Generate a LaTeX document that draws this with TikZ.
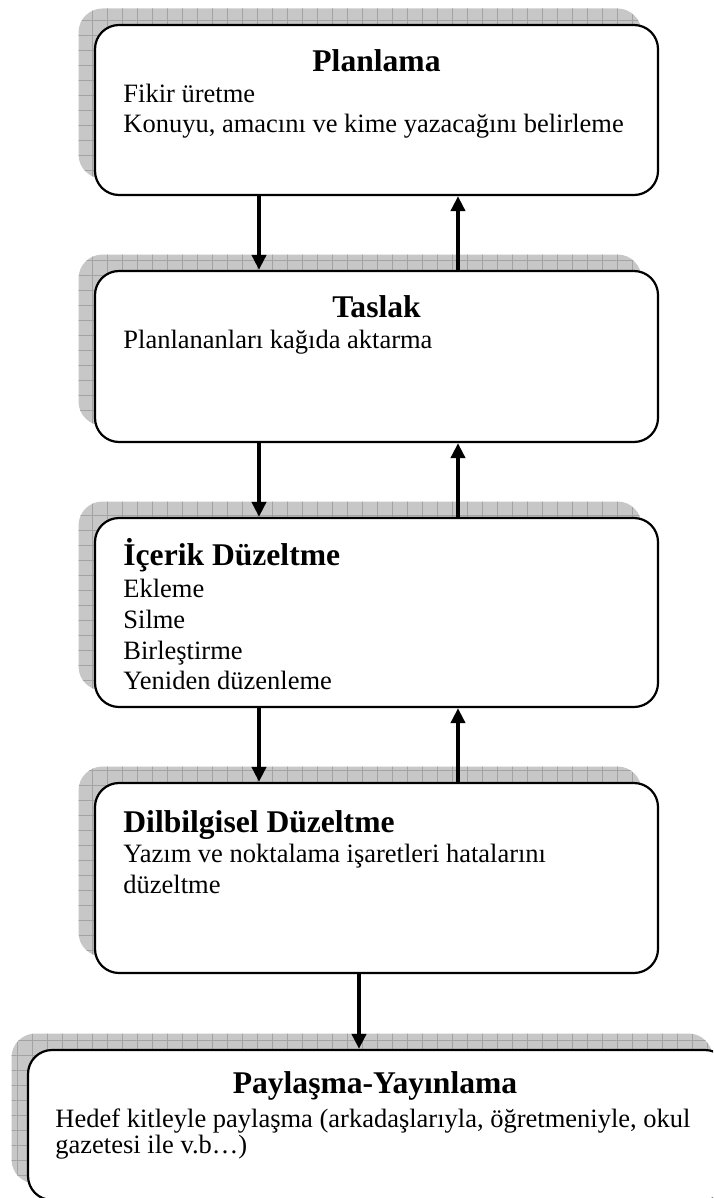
\documentclass[tikz,border=0pt]{standalone}
\usepackage{fontspec}
\setmainfont{Liberation Serif}
\usetikzlibrary{arrows.meta,fit,calc}
\tikzset{
  shadowfill/.style={fill=black!22},
  gridline/.style={draw=black!36,line width=0.35pt},
  box/.style={draw=black,fill=white,line width=1.1pt,rounded corners=12pt,inner sep=0pt,rectangle},
  arr/.style={draw=black,line width=2pt,-{Triangle[width=7pt,length=7.5pt]}},
  ttl/.style={inner sep=0pt,font=\fontsize{15.8}{19}\selectfont\bfseries},
  txt/.style={inner sep=0pt,font=\fontsize{13.25}{15}\selectfont},
}
\newcommand\gridshadow[4]{%
  \begin{scope}
    \path[clip,rounded corners=12pt] (#1-16.5,#2-16.5) rectangle (#3-16.5,#4-16.5);
    \fill[shadowfill] (#1-20,#2-20) rectangle (#3,#4);
    \foreach \gx in {0,15,...,720} \draw[gridline] (\gx+2,#2-20) -- (\gx+2,#4);
    \foreach \gy in {0,15,...,1215} \draw[gridline] (#1-20,\gy+5) -- (#3,\gy+5);
  \end{scope}}
\begin{document}
\begin{tikzpicture}[x=0.5pt,y=-0.5pt]
\useasboundingbox (0,0) rectangle (713,1198);
\clip (0,0) rectangle (713,1198);
\coordinate (xl) at (259,0);
\coordinate (xr) at (458,0);
\coordinate (xm) at (359,0);
% Box 1
\gridshadow{95}{25}{658}{195}
\node[box,fit={(95,25) (658,195)}] (b1) {};
\node[ttl,anchor=base] (t1) at (376.5,72) {Planlama};
\node[txt,anchor=base west] (p1a) at (123,103) {Fikir üretme};
\node[txt,anchor=base west] (p1b) at (123,133) {Konuyu, amacını ve kime yazacağını belirleme};
% Box 2
\gridshadow{95}{271}{658}{442}
\node[box,fit={(95,271) (658,442)}] (b2) {};
\node[ttl,anchor=base] (t2) at (376.5,317) {Taslak};
\node[txt,anchor=base west] (p2a) at (123,348) {Planlananları kağıda aktarma};
% Box 3
\gridshadow{95}{518}{658}{707}
\node[box,fit={(95,518) (658,707)}] (b3) {};
\node[ttl,anchor=base west] (t3) at (123,565) {İçerik Düzeltme};
\node[txt,anchor=base west] (p3a) at (123,597) {Ekleme};
\node[txt,anchor=base west] (p3b) at (123,628) {Silme};
\node[txt,anchor=base west] (p3c) at (123,659) {Birleştirme};
\node[txt,anchor=base west] (p3d) at (123,689) {Yeniden düzenleme};
% Box 4
\gridshadow{95}{783}{658}{973}
\node[box,fit={(95,783) (658,973)}] (b4) {};
\node[ttl,anchor=base west] (t4) at (123,832) {Dilbilgisel Düzeltme};
\node[txt,anchor=base west] (p4a) at (123,862) {Yazım ve noktalama işaretleri hatalarını};
\node[txt,anchor=base west] (p4b) at (123,893) {düzeltme};
% Box 5
\gridshadow{28}{1050}{729}{1200}
\node[box,fit={(28,1050) (729,1200)}] (b5) {};
\node[ttl,anchor=base] (t5) at (375,1093) {Paylaşma-Yayınlama};
\node[txt,anchor=base west] (p5a) at (55,1127) {Hedef kitleyle paylaşma (arkadaşlarıyla, öğretmeniyle, okul};
\node[txt,anchor=base west] (p5b) at (55,1153) {gazetesi ile v.b…)};
% Arrows
\draw[arr] (xl |- b1.south) -- (xl |- b2.north);
\draw[arr] (xr |- b2.north) -- (xr |- b1.south);
\draw[arr] (xl |- b2.south) -- (xl |- b3.north);
\draw[arr] (xr |- b3.north) -- (xr |- b2.south);
\draw[arr] (xl |- b3.south) -- (xl |- b4.north);
\draw[arr] (xr |- b4.north) -- (xr |- b3.south);
\draw[arr] (xm |- b4.south) -- (xm |- b5.north);
\end{tikzpicture}
\end{document}
